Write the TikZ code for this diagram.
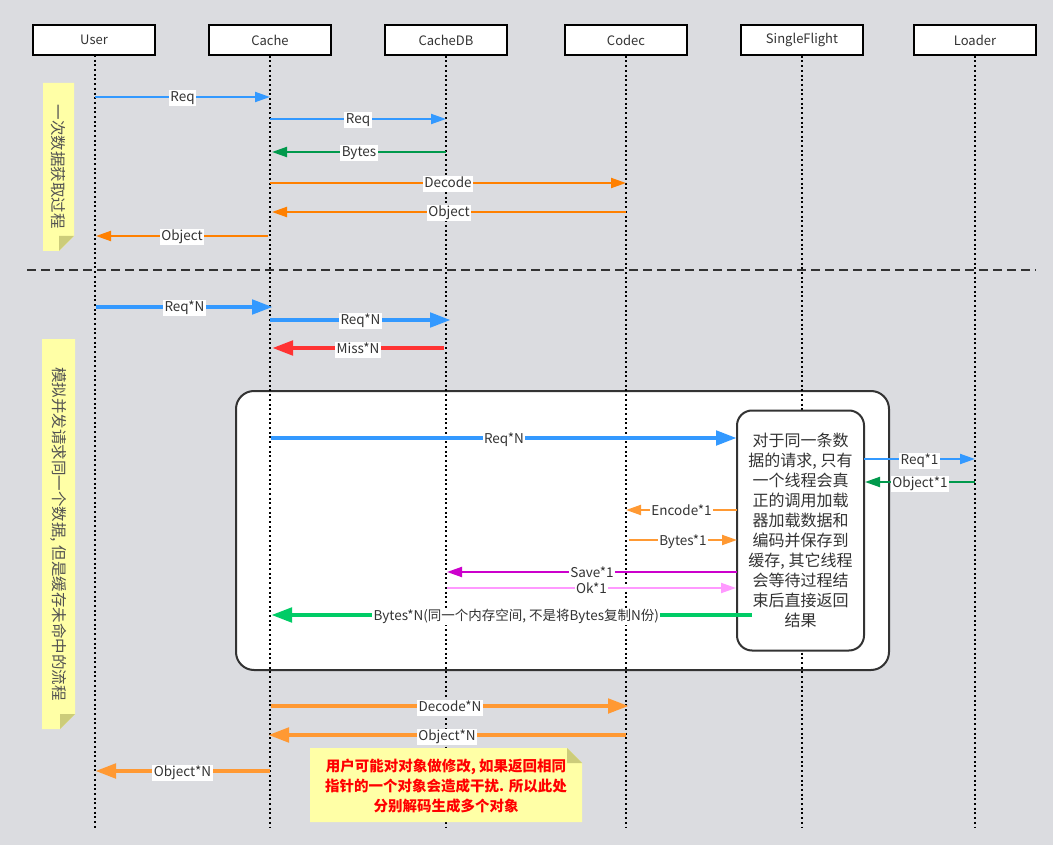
\documentclass[tikz,border=0pt]{standalone}
\usepackage{fontspec}
\setmainfont{Noto Sans CJK SC}
\usetikzlibrary{arrows.meta}
\definecolor{bg}{HTML}{DBDCE0}
\definecolor{txt}{HTML}{333333}
\definecolor{boxc}{HTML}{333333}
\definecolor{cblue}{HTML}{3399FF}
\definecolor{cgreen}{HTML}{00994C}
\definecolor{corange}{HTML}{FF8000}
\definecolor{cred}{HTML}{FF3333}
\definecolor{corange2}{HTML}{FF9933}
\definecolor{cgreen2}{HTML}{00CC66}
\definecolor{cmag}{HTML}{CC00CC}
\definecolor{cpink}{HTML}{FF99FF}
\definecolor{notey}{HTML}{FFFFA6}
\definecolor{foldc}{HTML}{CCCC7A}
\begin{document}
\begin{tikzpicture}[x=1pt,y=-1pt,
  actor/.style={draw=black, line width=1.5pt, fill=white, minimum width=122pt, minimum height=30pt, inner sep=0pt, font=\fontsize{13}{15}\selectfont, text=txt},
  life/.style={line width=1.8pt, dash pattern=on 2pt off 2.7pt},
  thinarr/.style={line width=2pt, -{Triangle[length=15pt,width=10pt]}},
  thickarr/.style={line width=4.7pt, -{Triangle[length=21pt,width=14pt]}},
  lbl/.style={fill=white, inner xsep=1.5pt, inner ysep=1.5pt, text=txt, font=\fontsize{13.5}{15}\selectfont, text height=10pt, text depth=3pt, yshift=-1.5pt},
  notetext/.style={text=txt!85!white, font=\fontsize{15.5}{18}\selectfont}
]
\useasboundingbox (0,0) rectangle (1053,845);
\fill[bg] (0,0) rectangle (1053,845);

% notes
\fill[notey] (43,83) -- (74,83) -- (74,236) -- (59,251) -- (43,251) -- cycle;
\fill[foldc] (74,236) -- (59,236) -- (59,251) -- cycle;
\node[notetext, rotate=-90] (n1) at (58.5,167) {一次数据获取过程};

\fill[notey] (42,339) -- (75,339) -- (75,714) -- (60,729) -- (42,729) -- cycle;
\fill[foldc] (75,714) -- (60,714) -- (60,729) -- cycle;
\node[notetext, rotate=-90] (n2) at (58.5,534) {模拟并发请求同一个数据, 但是缓存未命中的流程};

% big box
\draw[line width=2pt, draw=boxc, fill=white, rounded corners=18pt] (236,391) rectangle (889,670);

% actors
\node[actor] (user) at (94,40) {User};
\node[actor] (cache) at (270,40) {Cache};
\node[actor] (db) at (446,40) {CacheDB};
\node[actor] (codec) at (626,40) {Codec};
\node[actor] (sfh) at (802,40) {SingleFlight};
\node[actor] (loader) at (975,40) {Loader};

\coordinate (uE) at (95,828);
\coordinate (cE) at (270,828);
\coordinate (dE) at (446,828);
\coordinate (kE) at (626,828);
\coordinate (sE) at (802,828);
\coordinate (lE) at (975,828);
\draw[life] (95,55) -- (uE);
\draw[life] (cache.south) -- (cE);
\draw[life] (db.south) -- (dE);
\draw[life] (codec.south) -- (kE);
\draw[life] (sfh.south) -- (sE);
\draw[life] (loader.south) -- (lE);

% inner box
\node[draw=boxc, line width=2pt, fill=white, rounded corners=15pt, minimum width=127pt, minimum height=240pt, align=center, text=txt, font=\fontsize{16}{20}\selectfont] (sf) at (800.5,530.5)
{对于同一条数\\据的请求, 只有\\一个线程会真\\正的调用加载\\器加载数据和\\编码并保存到\\缓存, 其它线程\\会等待过程结\\束后直接返回\\结果};

% separator
\coordinate (sepA) at (27,270);
\coordinate (sepB) at (1036,270);
\draw[line width=2pt, draw=txt, dash pattern=on 9pt off 5pt] (sepA) -- (sepB);

% phase 1
\coordinate (a1s) at (95,97);   \coordinate (a1e) at (270,97);
\coordinate (a2s) at (270,119); \coordinate (a2e) at (446,119);
\coordinate (a3s) at (446,152); \coordinate (a3e) at (272,152);
\coordinate (a4s) at (270,183); \coordinate (a4e) at (626,183);
\coordinate (a5s) at (626,212); \coordinate (a5e) at (272,212);
\coordinate (a6s) at (268,236); \coordinate (a6e) at (96,236);
\draw[thinarr, cblue] (a1s) -- node[lbl] {Req} (a1e);
\draw[thinarr, cblue] (a2s) -- node[lbl] {Req} (a2e);
\draw[thinarr, cgreen] (a3s) -- node[lbl] {Bytes} (a3e);
\draw[thinarr, corange] (a4s) -- node[lbl] {Decode} (a4e);
\draw[thinarr, corange] (a5s) -- node[lbl] {Object} (a5e);
\draw[thinarr, corange] (a6s) -- node[lbl] {Object} (a6e);

% phase 2
\coordinate (b1s) at (96,307);  \coordinate (b1e) at (273,307);
\coordinate (b2s) at (270,320); \coordinate (b2e) at (451,320);
\coordinate (b3s) at (444,348); \coordinate (b3e) at (272,348);
\coordinate (b4s) at (271,438); \coordinate (b4e) at (737,438);
\coordinate (b5s) at (864,459); \coordinate (b5e) at (975,459);
\coordinate (b6s) at (975,482); \coordinate (b6e) at (865,482);
\coordinate (b7s) at (737,510); \coordinate (b7e) at (626,510);
\coordinate (b8s) at (629,540); \coordinate (b8e) at (737,540);
\coordinate (b9s) at (737,572); \coordinate (b9e) at (447,572);
\coordinate (b10s) at (447,588); \coordinate (b10e) at (736,588);
\coordinate (b11s) at (752,615); \coordinate (b11e) at (271,615);
\coordinate (b12s) at (271,706); \coordinate (b12e) at (629,706);
\coordinate (b13s) at (626,735); \coordinate (b13e) at (268,735);
\coordinate (b14s) at (270,771); \coordinate (b14e) at (95,771);

\draw[thickarr, cblue] (b1s) -- node[lbl] {Req*N} (b1e);
\draw[thickarr, cblue] (b2s) -- node[lbl] {Req*N} (b2e);
\draw[thickarr, cred] (b3s) -- node[lbl] {Miss*N} (b3e);
\draw[thickarr, cblue] (b4s) -- node[lbl] {Req*N} (b4e);
\draw[thinarr, cblue] (b5s) -- node[lbl] {Req*1} (b5e);
\draw[thinarr, cgreen] (b6s) -- node[lbl] {Object*1} (b6e);
\draw[thinarr, corange2] (b7s) -- node[lbl] {Encode*1} (b7e);
\draw[thinarr, corange2] (b8s) -- node[lbl] {Bytes*1} (b8e);
\draw[thinarr, cmag] (b9s) -- node[lbl] {Save*1} (b9e);
\draw[thinarr, cpink] (b10s) -- node[lbl] {Ok*1} (b10e);
\draw[thickarr, cgreen2] (b11s) -- node[lbl, pos=0.49] {Bytes*N(同一个内存空间, 不是将Bytes复制N份)} (b11e);
\draw[thickarr, corange2] (b12s) -- node[lbl] {Decode*N} (b12e);
\draw[thickarr, corange2] (b13s) -- node[lbl] {Object*N} (b13e);
\draw[thickarr, corange2] (b14s) -- node[lbl] {Object*N} (b14e);

% note 3
\fill[notey] (310,748) -- (567,748) -- (582,763) -- (582,822) -- (310,822) -- cycle;
\fill[foldc] (567,748) -- (567,763) -- (582,763) -- cycle;
\node[align=center, text=red, font=\bfseries\fontsize{14.5}{20}\selectfont] (n3) at (446,786)
{用户可能对对象做修改, 如果返回相同\\指针的一个对象会造成干扰. 所以此处\\分别解码生成多个对象};
\end{tikzpicture}
\end{document}
